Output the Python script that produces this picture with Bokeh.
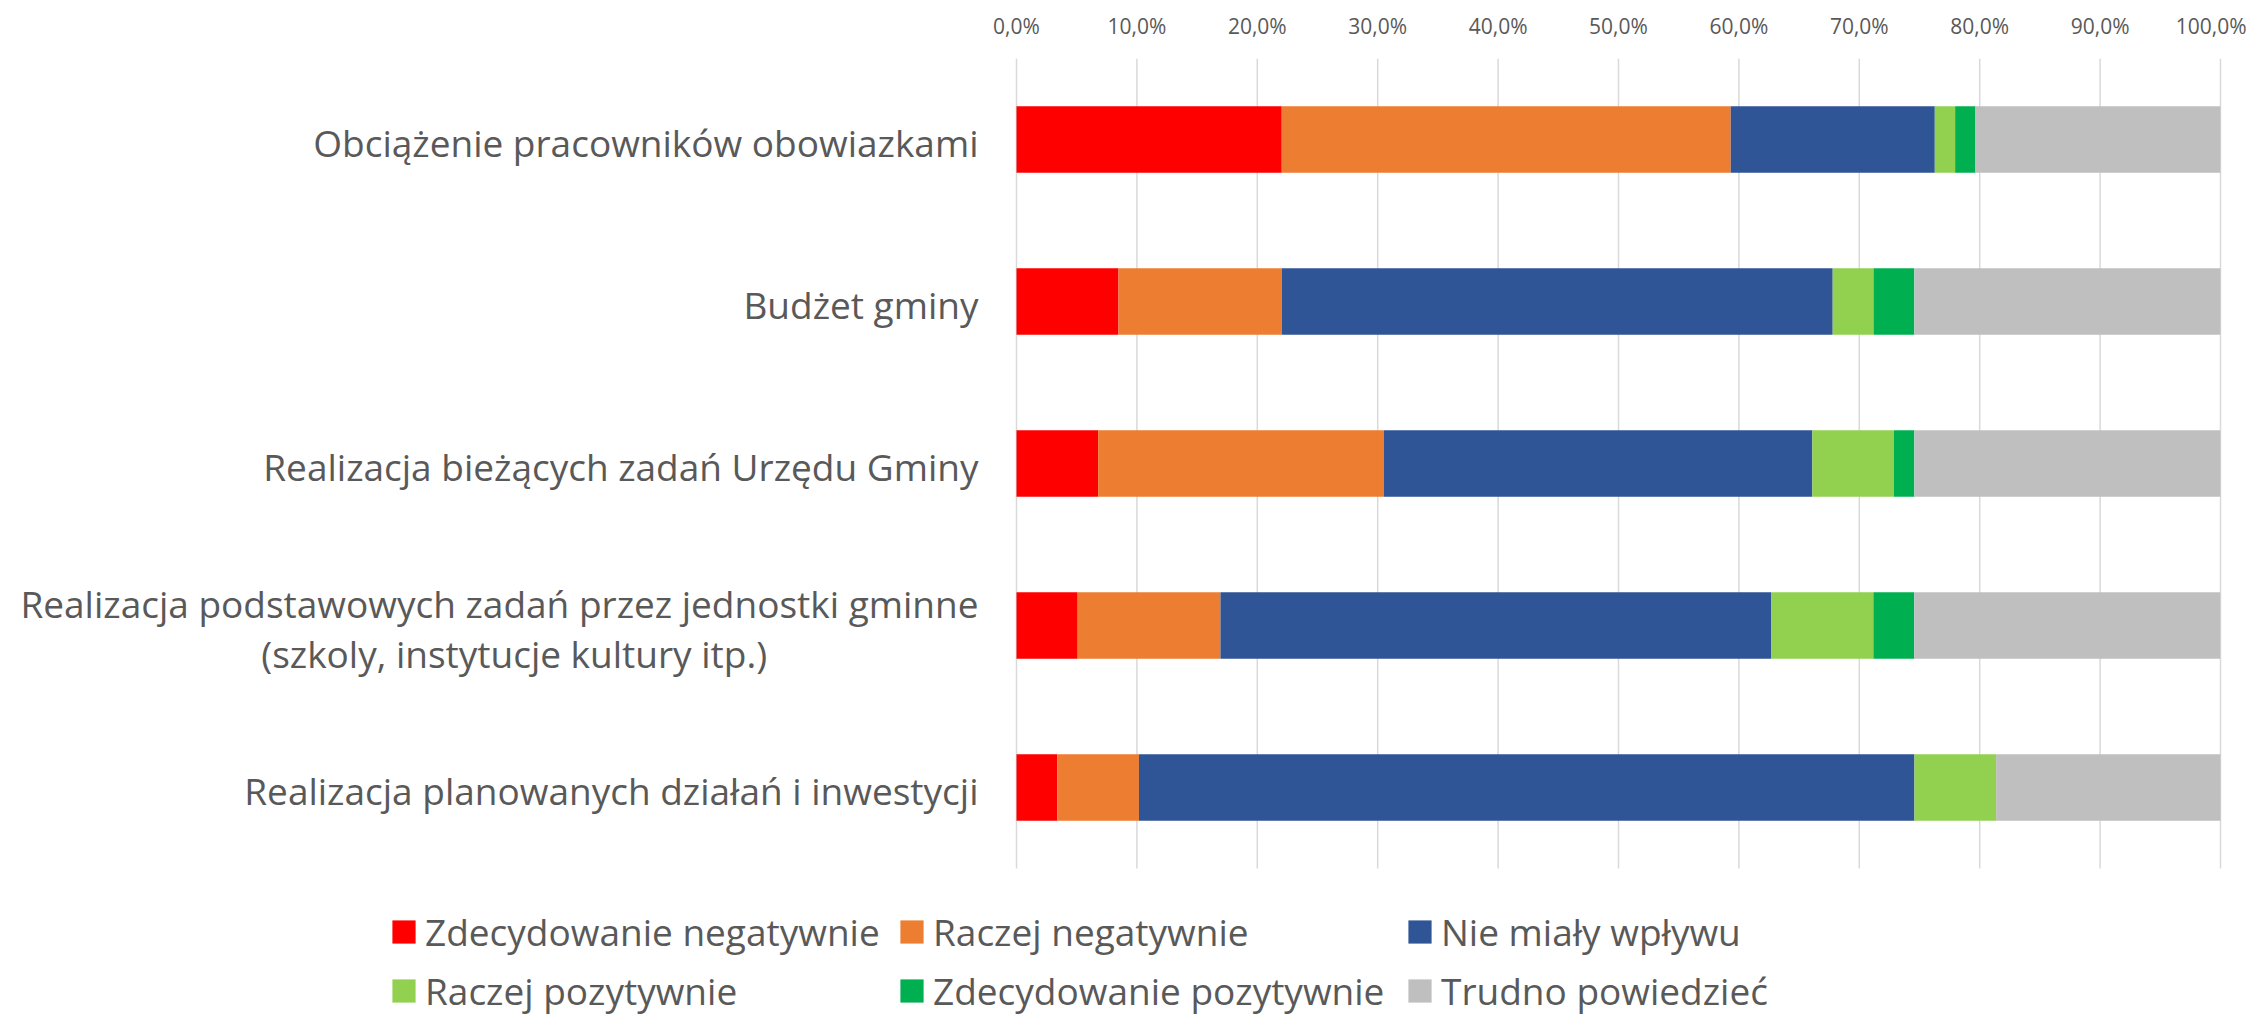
from bokeh.plotting import figure
from bokeh.models import (Range1d, Legend, LegendItem, FixedTicker,
                          CustomJSTickFormatter, ColumnDataSource)
from bokeh.core.properties import value
from bokeh.embed import file_html
from bokeh.resources import INLINE

NB = "\u00a0"
categories = [
    "Obciążenie pracowników obowiazkami",
    "Budżet gminy",
    "Realizacja bieżących zadań Urzędu Gminy",
    "Realizacja podstawowych zadań przez jednostki gminne\n(szkoly, instytucje kultury itp.)" + NB * 22,
    "Realizacja planowanych działań i inwestycji",
]
series_names = ["Zdecydowanie negatywnie", "Raczej negatywnie", "Nie miały wpływu",
                "Raczej pozytywnie", "Zdecydowanie pozytywnie", "Trudno powiedzieć"]
zdecydowanie_negatywnie = [22.03, 8.47, 6.78, 5.08, 3.39]
raczej_negatywnie = [37.29, 13.56, 23.73, 11.86, 6.78]
nie_mialy_wplywu = [16.95, 45.76, 35.59, 45.76, 64.41]
raczej_pozytywnie = [1.69, 3.39, 6.78, 8.47, 6.78]
zdecydowanie_pozytywnie = [1.69, 3.39, 1.69, 3.39, 0.00]
trudno_powiedziec = [20.34, 25.42, 25.42, 25.42, 18.64]
x_ticks = [0, 10, 20, 30, 40, 50, 60, 70, 80, 90, 100]

colors = ["#FF0000", "#ED7D31", "#2F5597", "#92D050", "#00B050", "#BFBFBF"]
keys = ["s0", "s1", "s2", "s3", "s4", "s5"]
series = [zdecydowanie_negatywnie, raczej_negatywnie, nie_mialy_wplywu,
          raczej_pozytywnie, zdecydowanie_pozytywnie, trudno_powiedziec]

# category slots, top to bottom
pos = list(range(len(categories)))
data = {"cat": categories, "pos": pos}
for k, s in zip(keys, series):
    data[k] = s
source = ColumnDataSource(data)

FONT = "Open Sans"
TXT = "#595959"

W, H = 2246, 1016
TOP = 58
X0_PX, X100_PX = 1016, 2220           # screen position of 0 % and 100 %
SLOT_PX = 162                         # height of one category slot
ppu = (X100_PX - X0_PX) / 100.0
x_start = -X0_PX / ppu
x_end = 100 + (W - X100_PX) / ppu
y_top = -0.5
y_bottom = y_top + (H - TOP) / SLOT_PX

p = figure(width=W, height=H,
           x_range=Range1d(x_start, x_end),
           y_range=Range1d(y_bottom, y_top),
           x_axis_location="above", y_axis_location=None,
           output_backend="svg", toolbar_location=None,
           min_border_left=0, min_border_right=0,
           min_border_top=TOP, min_border_bottom=0)

# vertical grid lines over the category area only
grid_src = ColumnDataSource({"t": x_ticks})
p.segment(x0="t", x1="t", y0=-0.5, y1=len(categories) - 0.5, source=grid_src,
          line_color="#D9D9D9", line_width=1.5)

renderers = p.hbar_stack(keys, y="pos", height=0.41, color=colors, source=source,
                         line_color=None)

# category labels
p.text(x=0, y="pos", text="cat", source=source, x_offset=-38, y_offset=3,
       text_align="right", text_baseline="middle",
       text_font=value(FONT), text_font_size="37px", text_color=TXT,
       text_line_height=0.97)

p.xaxis.ticker = FixedTicker(ticks=x_ticks)
p.xaxis.formatter = CustomJSTickFormatter(code="return tick.toFixed(1).replace('.', ',') + '%';")
p.xaxis.major_label_text_font = FONT
p.xaxis.major_label_text_font_size = "21px"
p.xaxis.major_label_text_color = TXT
p.xaxis.axis_line_color = None
p.xaxis.major_tick_line_color = None
p.xaxis.minor_tick_line_color = None
p.xaxis.major_label_standoff = 13

p.xgrid.grid_line_color = None
p.ygrid.grid_line_color = None
p.outline_line_color = None

items = [LegendItem(label=n, renderers=[r]) for n, r in zip(series_names, renderers)]
legend = Legend(items=items, location=(389, 0), orientation="horizontal", ncols=3,
                glyph_width=29, glyph_height=29, label_standoff=7, label_width=464,
                spacing=8, padding=0, margin=0,
                label_text_font=FONT, label_text_font_size="37px",
                label_text_color=TXT,
                border_line_color=None, background_fill_alpha=0)
p.add_layout(legend)

open("out.html", "w").write(file_html(p, INLINE))
